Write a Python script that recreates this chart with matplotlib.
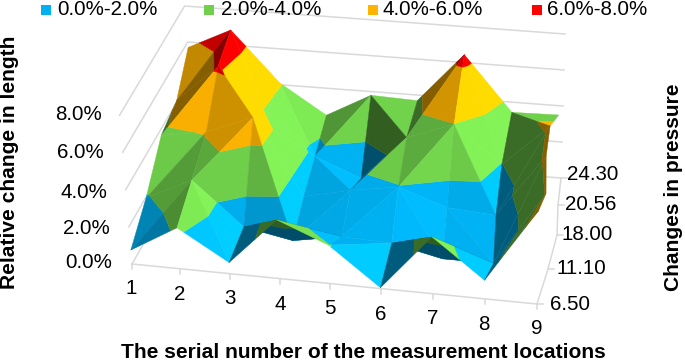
import numpy as np
import matplotlib
matplotlib.use("Agg")
import matplotlib.pyplot as plt
from matplotlib.collections import PolyCollection
from matplotlib.patches import Rectangle

plt.rcParams['font.family'] = ['Liberation Sans', 'DejaVu Sans']

categories = ['1', '2', '3', '4', '5', '6', '7', '8', '9']
pressure_labels = ['6.50', '11.10', '18.00', '20.56', '24.30']
z_labels = ['0.0%', '2.0%', '4.0%', '6.0%', '8.0%']
z_ticks = [0, 2, 4, 6, 8]
band_labels = ['0.0%-2.0%', '2.0%-4.0%', '4.0%-6.0%', '6.0%-8.0%']
band_edges = [0, 2, 4, 6, 8]
band_colors = ['#00B0F0', '#70D04B', '#FFB400', '#FF0000']

row_650 = [0.75, 2.2, 0.6, 3.15, 2.07, 0.05, 3.05, 1.0, 5.0]
row_1110 = [1.9, 3.1, 0.8, 0.3, 0.75, 0.65, 0.05, 0.05, 4.1]
row_1800 = [3.7, 4.1, 5.1, 1.0, 1.55, 1.95, 1.05, 0.85, 4.3]
row_2056 = [4.1, 6.2, 3.8, 1.6, 0.6, 3.05, 3.98, 1.95, 4.3]
row_2430 = [5.7, 6.85, 4.1, 2.5, 3.8, 3.7, 6.45, 3.45, 3.5]
Z = np.array([row_650, row_1110, row_1800, row_2056, row_2430])

# layout of the projected box, in figure pixels
U = np.array([0, .1185, .242, .365, .489, .615, .743, .872, 1.0])
AXIS_L = np.array([(132, 264), (149, 233), (167, 203), (183, 175), (197, 150)], float)
AXIS_R = np.array([(537, 304), (548, 269), (557, 235), (558, 205), (561, 178)], float)
SURF_R = np.array([(536, 304), (544, 269), (544, 235), (548, 204), (557, 178)], float)


def project(i, d, z, right=SURF_R):
    u = np.interp(i, np.arange(9), U)
    d0 = min(int(d), 3)
    t = d - d0
    L = AXIS_L[d0] * (1 - t) + AXIS_L[d0 + 1] * t
    R = right[d0] * (1 - t) + right[d0 + 1] * t
    F = L + (R - L) * u
    sx = -1.55 + 2.05 * u
    sy = 18.6 - 0.15 * d
    return F[0] + sx * z, F[1] - sy * z


def clip(poly, lo, hi):
    def side(pts, keep, level):
        out = []
        for k in range(len(pts)):
            p, q = pts[k], pts[(k + 1) % len(pts)]
            kp, kq = keep(p[2]), keep(q[2])
            if kp:
                out.append(p)
            if kp != kq:
                t = (level - p[2]) / (q[2] - p[2])
                out.append(tuple(p[n] + t * (q[n] - p[n]) for n in range(3)))
        return out
    pts = side(poly, lambda z: z >= lo, lo)
    if pts:
        pts = side(pts, lambda z: z <= hi, hi)
    return pts


def shade(hex_color, f):
    rgb = np.array(matplotlib.colors.to_rgb(hex_color))
    if f > 1:
        rgb = rgb * f
        if hex_color == '#FFB400':
            rgb = np.array([1.0, min(0.706 * (1 + (f - 1) * 1.3), 0.9), 0.0])
    else:
        rgb = rgb * f
    return tuple(np.clip(rgb, 0, 1))


fig = plt.figure(figsize=(6.85, 3.62), dpi=100)
ax = fig.add_axes([0, 0, 1, 1])
ax.set_xlim(0, 685)
ax.set_ylim(362, 0)
ax.axis('off')

GRID = '#D9D9D9'
# wall gridlines
for z in z_ticks:
    a = project(0, 0, z, AXIS_R)
    b = project(0, 4, z, AXIS_R)
    c = project(8, 4, z, AXIS_R)
    ax.plot([a[0], b[0], c[0]], [a[1], b[1], c[1]], color=GRID, lw=1.1, zorder=1)
# floor axes and ticks
pts = [project(i, 0, 0, AXIS_R) for i in range(9)]
ax.plot(*zip(*pts), color=GRID, lw=1.1, zorder=1)
for p in pts:
    ax.plot([p[0], p[0]], [p[1], p[1] + 5], color=GRID, lw=1.1, zorder=1)
pts = [project(8, d, 0, AXIS_R) for d in range(5)]
ax.plot(*zip(*pts), color=GRID, lw=1.1, zorder=1)
for p in pts:
    ax.plot([p[0], p[0] + 6], [p[1], p[1]], color=GRID, lw=1.1, zorder=1)

# surface
polys, cols = [], []


def add_triangle(tri):
    (i0, d0, z0), (i1, d1, z1), (i2, d2, z2) = tri
    A = np.array([[i0, d0, 1], [i1, d1, 1], [i2, d2, 1]], float)
    sx_, sd_, _ = np.linalg.solve(A, [z0, z1, z2])
    p = [project(*v) for v in tri]
    cross = (p[1][0] - p[0][0]) * (p[2][1] - p[0][1]) - (p[1][1] - p[0][1]) * (p[2][0] - p[0][0])
    grid_cross = (i1 - i0) * (d2 - d0) - (d1 - d0) * (i2 - i0)
    flipped = cross * grid_cross > 0
    if sx_ > 0.3:
        f = max(1 - 0.28 * (sx_ - 0.3), 0.52)
    elif sx_ > 0:
        f = 1.0
    else:
        f = min(1 - 0.08 * sx_, 1.17)
    f -= 0.1 * max(sd_ - 2.5, 0)
    if flipped:
        f = min(f, 0.44)
    for b in range(4):
        piece = clip(list(tri), band_edges[b], band_edges[b + 1])
        if len(piece) >= 3:
            polys.append([project(*v) for v in piece])
            cols.append(shade(band_colors[b], f))


for d in range(3, -1, -1):
    for i in range(8):
        a = (i, d, Z[d, i])
        b = (i + 1, d, Z[d, i + 1])
        c = (i + 1, d + 1, Z[d + 1, i + 1])
        e = (i, d + 1, Z[d + 1, i])
        top = max(a[2], b[2], c[2], e[2])
        if top in (a[2], c[2]):
            add_triangle((a, c, e))
            add_triangle((a, b, c))
        else:
            add_triangle((b, c, e))
            add_triangle((a, b, e))

ax.add_collection(PolyCollection(polys, facecolors=cols, edgecolors=cols, linewidths=0.3, zorder=3))

# labels
FS = 14.8
TITLE_FS = 15.1
z_label_xy = [(112, 263), (110, 229), (107, 192), (104, 153), (102, 115)]
for s, (x, y) in zip(z_labels, z_label_xy):
    ax.text(x, y, s, ha='right', va='center', fontsize=FS, color='black')
cat_xy = [(131, 289), (180, 294), (230, 299), (280, 305), (330, 309), (381, 314), (433, 318), (484, 324), (537, 329)]
for s, (x, y) in zip(categories, cat_xy):
    ax.text(x, y, s, ha='center', va='center', fontsize=FS, color='black')
press_xy = [(550, 304), (557, 269), (562, 235), (565, 205), (567, 175)]
for s, (x, y) in zip(pressure_labels, press_xy):
    ax.text(x, y, s, ha='left', va='center', fontsize=FS, color='black')

ax.text(363, 353, 'The serial number of the measurement locations', ha='center', va='center',
        fontsize=TITLE_FS, fontweight='bold', color='black')
ax.text(10, 162, 'Relative change in length', rotation=90, ha='center', va='center',
        fontsize=TITLE_FS, fontweight='bold', color='black')
ax.text(674, 187.5, 'Changes in pressure', rotation=90, ha='center', va='center',
        fontsize=TITLE_FS, fontweight='bold', color='black')

leg_sq = [41, 204, 368, 532]
leg_tx = [57, 221, 383, 547]
for s, col, xs, xt in zip(band_labels, band_colors, leg_sq, leg_tx):
    ax.add_patch(Rectangle((xs, 5), 10.5, 10, facecolor=col, edgecolor='none', zorder=4))
    ax.text(xt, 9.5, s, ha='left', va='center', fontsize=FS, color='black')

fig.savefig('out.png', dpi=100)
